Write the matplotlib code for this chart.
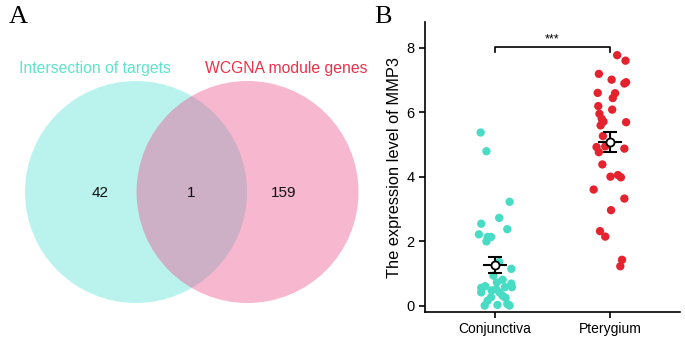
import matplotlib
matplotlib.use("Agg")
import matplotlib.pyplot as plt
from matplotlib.patches import Circle
import numpy as np

plt.rcParams['font.family'] = ['Liberation Sans', 'DejaVu Sans']

# ---------------- data ----------------
venn_sets = ["Intersection of targets", "WCGNA module genes"]
venn_counts = [42, 1, 159]  # left only, both, right only

groups = ["Conjunctiva", "Pterygium"]
conj_values = [5.37, 4.79, 3.22, 2.72, 2.54, 2.37, 2.21, 2.13, 2.13, 1.99,
               1.35, 1.14, 0.93, 0.80, 0.72, 0.68, 0.60, 0.57, 0.57, 0.55,
               0.50, 0.47, 0.41, 0.40, 0.30, 0.26, 0.24, 0.15, 0.05, 0.02,
               0.00, 0.00]
conj_jitter = [-0.12, -0.07, 0.13, 0.04, -0.115, 0.11, -0.135, -0.06, -0.03, -0.07,
               0.04, 0.145, -0.01, 0.07, 0.02, 0.145, -0.08, 0.15, 0.09, -0.115,
               0.015, -0.025, -0.115, 0.045, 0.07, -0.03, 0.095, -0.06, 0.11, 0.025,
               0.13, -0.085]
pter_values = [7.77, 7.60, 7.19, 7.01, 6.89, 6.93, 6.60, 6.59, 6.44, 6.19,
               6.08, 5.95, 5.79, 5.71, 5.59, 5.69, 5.26, 4.92, 4.76, 4.94,
               4.87, 4.38, 4.00, 4.05, 3.98, 3.60, 3.32, 2.96, 2.31, 2.14,
               1.42, 1.22]
pter_jitter = [0.058, 0.13, -0.10, 0.01, 0.12, 0.135, -0.11, 0.04, 0.02, -0.105,
               0.015, -0.095, -0.075, -0.06, -0.085, 0.135, -0.065, -0.12, -0.10, -0.045,
               0.12, -0.07, 0.0, 0.065, 0.09, -0.145, 0.12, 0.005, -0.09, -0.045,
               0.10, 0.085]
sig_label = "***"
y_ticks = [0, 2, 4, 6, 8]

# ---------------- figure ----------------
W, H = 685, 342
fig = plt.figure(figsize=(W / 100, H / 100), dpi=100)

# Panel A: Venn
axv = fig.add_axes([0, 0, 420 / W, 1])
axv.set_xlim(0, 420)
axv.set_ylim(H, 0)
axv.axis('off')
cyan_fill = '#40E0D0'
pink_fill = '#EA4C89'
axv.add_patch(Circle((136, 192), 111, facecolor=cyan_fill, alpha=0.36, edgecolor='none'))
axv.add_patch(Circle((247.5, 192), 111, facecolor=pink_fill, alpha=0.40, edgecolor='none'))
axv.text(95, 68, venn_sets[0], color='#5FE3CB', fontsize=11.3, ha='center', va='center')
axv.text(286, 68, venn_sets[1], color='#E8334A', fontsize=11.3, ha='center', va='center')
for xpos, cnt in zip([100, 191.5, 284], venn_counts):
    axv.text(xpos, 193, str(cnt), fontsize=11, ha='center', va='center', color='#111111')

fig.text(18 / W, 1 - 17 / H, "A", family='Liberation Serif', fontsize=19, ha='center', va='center')
fig.text(383 / W, 1 - 17 / H, "B", family='Liberation Serif', fontsize=19, ha='center', va='center')

# Panel B: scatter
ax = fig.add_axes([425 / W, 30 / H, 255 / W, 290 / H])
ax.set_xlim(-0.6, 1.6)
ax.set_ylim(-0.2, 8.8)
for s in ['top', 'right']:
    ax.spines[s].set_visible(False)
for s in ['left', 'bottom']:
    ax.spines[s].set_linewidth(1.2)

cols = ['#48DCC4', '#E4232F']
for i, (vals, jit) in enumerate([(conj_values, conj_jitter), (pter_values, pter_jitter)]):
    vals = np.array(vals)
    ax.scatter(i + np.array(jit), vals, s=36, color=cols[i], edgecolors='none', zorder=2)
    m = vals.mean()
    se = vals.std(ddof=1) / np.sqrt(len(vals))
    ax.errorbar(i, m, yerr=se, color='black', capsize=5, capthick=1.5, elinewidth=1.5, zorder=3)
    ax.plot([i - 0.095, i + 0.095], [m, m], color='black', lw=1.5, zorder=3)
    ax.scatter([i], [m], s=34, facecolor='white', edgecolor='black', linewidths=1.3, zorder=4)

# significance bracket
ax.plot([0, 0, 1, 1], [7.86, 8.02, 8.02, 7.86], color='black', lw=1.2)
ax.text(0.5, 8.06, sig_label, ha='center', va='bottom', fontsize=9)

ax.set_xticks([0, 1])
ax.set_xticklabels(groups, fontsize=10)
ax.set_yticks(y_ticks)
ax.set_yticklabels([str(t) for t in y_ticks], fontsize=10.5)
ax.tick_params(length=4, width=1.2)
ax.set_ylabel("The expression level of MMP3", fontsize=11.8, labelpad=3)

fig.savefig("out.png", dpi=100)
